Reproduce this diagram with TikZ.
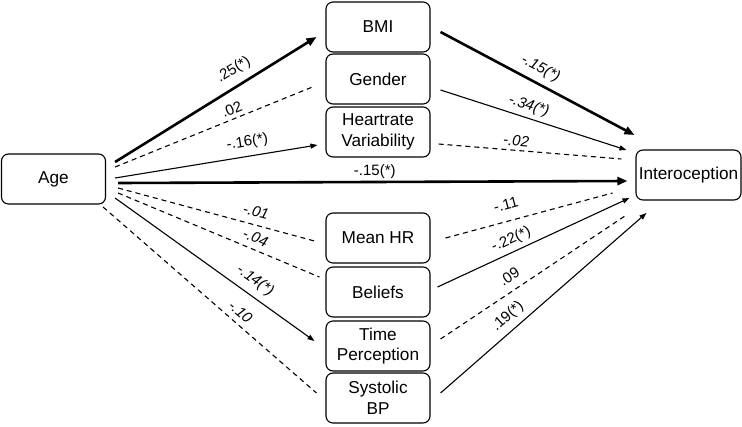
\documentclass[tikz,border=0pt]{standalone}
\usepackage{fontspec}
\setmainfont{Liberation Sans}
\usetikzlibrary{arrows.meta,calc}

\tikzset{
  var/.style={draw, rounded corners=7pt, line width=1.1pt, minimum width=104pt,
    minimum height=50pt, align=center, inner sep=2pt,
    font=\fontsize{17.2}{20.5}\selectfont},
  sig/.style={line width=1.1pt, -{Triangle[length=7pt,width=5pt]}},
  strong/.style={line width=2.6pt, -{Triangle[length=10pt,width=8pt]}},
  ns/.style={line width=1.1pt, dash pattern=on 5pt off 4pt},
  coef/.style={sloped, inner sep=0pt, text height=11pt, text depth=3.5pt,
    font=\fontsize{15}{16}\selectfont},
  coefit/.style={coef, font=\fontsize{15}{16}\selectfont\itshape},
}

\begin{document}
\begin{tikzpicture}[x=1pt,y=-1pt]
\useasboundingbox (0,0) rectangle (742,426);

% variables
\node[var] (age) at (53.5,179) {Age};
\node[var] (bmi) at (378,27) {BMI};
\node[var] (gender) at (378,79) {Gender};
\node[var] (hrv) at (378,132) {Heartrate\\Variability};
\node[var] (meanhr) at (378,238) {Mean HR};
\node[var] (beliefs) at (378,292) {Beliefs};
\node[var] (timep) at (378,346) {Time\\Perception};
\node[var] (sbp) at (378,398) {Systolic\\BP};
\node[var, minimum width=105pt] (intero) at (688.5,175) {Interoception};

% age -> mediators
\draw[strong] ($(age.east)+(9,-17)$) -- node[coef, pos=.63, above=7pt] {.25(*)} ($(bmi.west)+(-9,10)$);
\draw[ns] ($(age.east)+(9,-12)$) -- node[coef, pos=.61, above=0.5pt] {.02} ($(gender.west)+(-13,8)$);
\draw[sig] ($(age.east)+(9,-1)$) -- node[coef, pos=.665, above=6pt] {-.16(*)} ($(hrv.west)+(-8,13)$);
\draw[ns] ($(age.east)+(12,9)$) -- node[coefit, pos=.685, above=4pt] {-.01} ($(meanhr.west)+(-11,3)$);
\draw[ns] ($(age.east)+(12,14)$) -- node[coefit, pos=.66, above=2.5pt] {-.04} ($(beliefs.west)+(-6,-15)$);
\draw[sig] ($(age.east)+(9,19)$) -- node[coefit, pos=.66, above=6.5pt] {-.14(*)} ($(timep.west)+(-11,-5)$);
\draw[ns] ($(age.east)+(-3,28)$) -- node[coefit, pos=.61, above=2pt] {-.10} ($(sbp.west)+(-9,-5)$);

% direct path
\draw[strong] ($(age.east)+(12,4)$) -- node[coef, pos=.504, above=2pt] {-.15(*)} ($(intero.west)+(-8,6)$);

% mediators -> interoception
\draw[strong] ($(bmi.east)+(10,5)$) -- node[coefit, pos=.48, above=6pt] {-.15(*)} ($(intero.west)+(-1,-40)$);
\draw[sig] ($(gender.east)+(10,11)$) -- node[coefit, pos=.455, above=4pt] {-.34(*)} ($(intero.west)+(-9,-25)$);
\draw[ns] ($(hrv.east)+(8,12)$) -- node[coefit, pos=.42, above=0.5pt] {-.02} ($(intero.west)+(-14,-16)$);
\draw[ns] ($(meanhr.east)+(15,0)$) -- node[coef, pos=.387, above=7.5pt] {-.11} ($(intero.west)+(-23,18)$);
\draw[sig] ($(beliefs.east)+(7,-5)$) -- node[coef, pos=.41, above=4pt] {-.22(*)} ($(intero.west)+(-6,23)$);
\draw[ns] ($(timep.east)+(10,-7)$) -- node[coef, pos=.41, above=4.5pt] {.09} ($(intero.west)+(-9,40)$);
\draw[sig] ($(sbp.east)+(10,-5)$) -- node[coef, pos=.37, above=5.5pt] {.19(*)} ($(intero.west)+(11,38)$);
\end{tikzpicture}
\end{document}
